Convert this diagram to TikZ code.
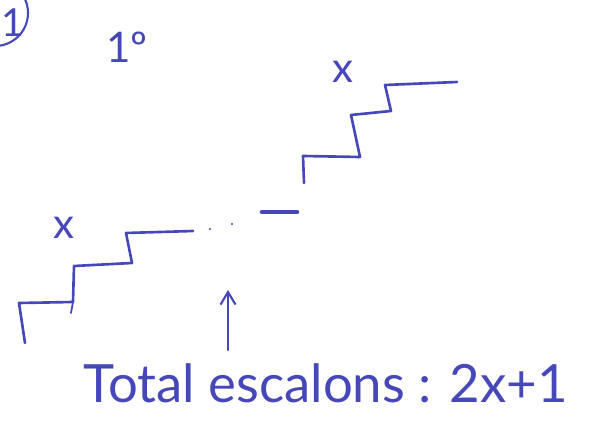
\documentclass[tikz,border=0pt]{standalone}
\usepackage{fontspec}
\setmainfont{Lato}
\usepackage{tikz}
\usetikzlibrary{arrows.meta,positioning}
\definecolor{ink}{RGB}{70,72,185}

\begin{document}
\begin{tikzpicture}[
  x=0.02cm, y=-0.02cm,
  pen/.style={ink, line width=1.5pt, line cap=round, line join=round},
  label/.style={ink, inner sep=0pt, font=\fontsize{24}{26}\selectfont},
  arrow/.style={pen, line width=1.2pt, -{Straight Barb[length=2.5mm, width=3mm]}}
]
\useasboundingbox (0,0) rectangle (590,428);
% circled number
\draw[pen, line width=1.2pt] (-5,13) circle (33);
\node[label, font=\fontsize{22}{24}\selectfont, anchor=west] (num) at (1,23) {1};
\node[label] (first) at (127,47) {1º};
% left stair
\draw[pen] (25,343) -- (19,303) -- (73,302) -- (74,266) -- (132,263) -- (126,233) -- (193,231);
\draw[pen, line width=1pt] (73,302) -- (71,313);
\node[label] (xleft) at (64,228) {x};
% dots and dash
\fill[ink] (210,229) circle (1.2) (232,224) circle (1.2);
\draw[pen, line width=2.6pt] (262,212) -- (297,212);
% right stair
\draw[pen] (304,183) -- (303,156) -- (360,157) -- (351,115) -- (391,111) -- (385,85) -- (457,82);
\node[label] (xright) at (343,72) {x};
% total
\node[label, font=\fontsize{30}{32}\selectfont, anchor=base west] (total) at (83,402) {Total escalons : 2x+1};
\coordinate (base) at (228,350);
\coordinate (tip) at (228,290);
\draw[arrow] (base) -- (tip);
\end{tikzpicture}
\end{document}
